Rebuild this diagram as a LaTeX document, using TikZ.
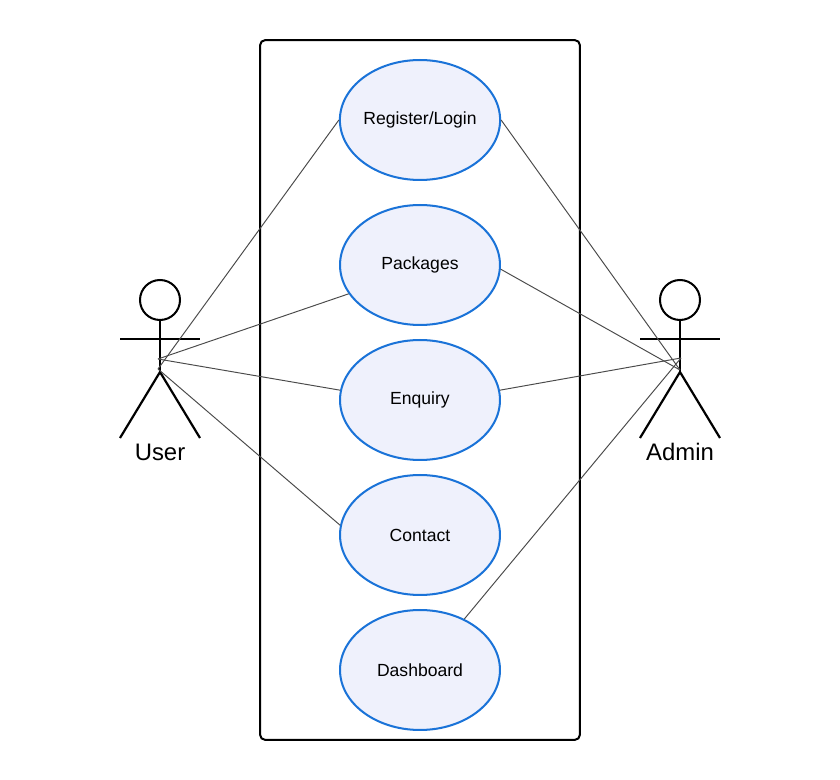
\documentclass[tikz,border=0pt]{standalone}
\usepackage{fontspec}
\usetikzlibrary{shapes.geometric}
\setmainfont{Liberation Sans}
\definecolor{usecaseblue}{HTML}{1A73D8}
\definecolor{usecasefill}{HTML}{EFF1FC}
\definecolor{linkgray}{HTML}{4A4A4A}

% Stick figure: name, x of its middle, label
\def\actor #1 #2 #3 {
\node[head] at (#2,300) (#1head) {};
\coordinate (#1arml) at (#2-40,339);
\coordinate (#1armr) at (#2+40,339);
\coordinate (#1hip) at (#2,372);
\coordinate (#1legl) at (#2-40,438);
\coordinate (#1legr) at (#2+40,438);
\draw[limb] (#1head) -- (#1hip);
\draw[limb] (#1arml) -- (#1armr);
\draw[limb] (#1legl) -- (#1hip) -- (#1legr);
\node[actorlabel] at (#2,452) (#1label) {#3};
}

\begin{document}
\begin{tikzpicture}[
x=0.02cm, y=-0.02cm,
usecase/.style={ellipse, draw=usecaseblue, fill=usecasefill, line width=1.15pt, inner sep=0pt, minimum width=3.2cm, minimum height=2.4cm, font=\fontsize{10}{12}\selectfont},
sysbox/.style={draw=black, line width=1.15pt, rounded corners=3pt, inner sep=0pt, minimum width=6.4cm, minimum height=14cm},
head/.style={circle, draw=black, line width=1.15pt, inner sep=0pt, minimum size=0.8cm},
limb/.style={draw=black, line width=1.25pt},
actorlabel/.style={font=\fontsize{13.6}{16}\selectfont, inner sep=0pt},
link/.style={draw=linkgray, line width=0.55pt},
]
\useasboundingbox (0,0) rectangle (840,780);

\node[sysbox] at (420,390) (system) {};

\node[usecase] at (420,120) (register) {Register/Login};
\node[usecase] at (420,265) (packages) {Packages};
\node[usecase] at (420,400) (enquiry) {Enquiry};
\node[usecase] at (420,535) (contact) {Contact};
\node[usecase] at (420,670) (dashboard) {Dashboard};

\actor user 160 User
\actor admin 680 Admin

\coordinate (userupper) at (158,359);
\coordinate (userlower) at (158,369);
\coordinate (adminupper) at (681,358);
\coordinate (adminlower) at (680,370);

% User side:
\draw[link] (register.west) -- (userlower);
\draw[link] (packages.202) -- (userupper);
\draw[link] (enquiry.173) -- (userupper);
\draw[link] (contact.173) -- (userlower);

% Admin side:
\draw[link] (register.east) -- (adminlower);
\draw[link] (packages.-3) -- (adminlower);
\draw[link] (enquiry.7) -- (adminupper);
\draw[link] (dashboard.49) -- (adminupper);
\end{tikzpicture}
\end{document}
